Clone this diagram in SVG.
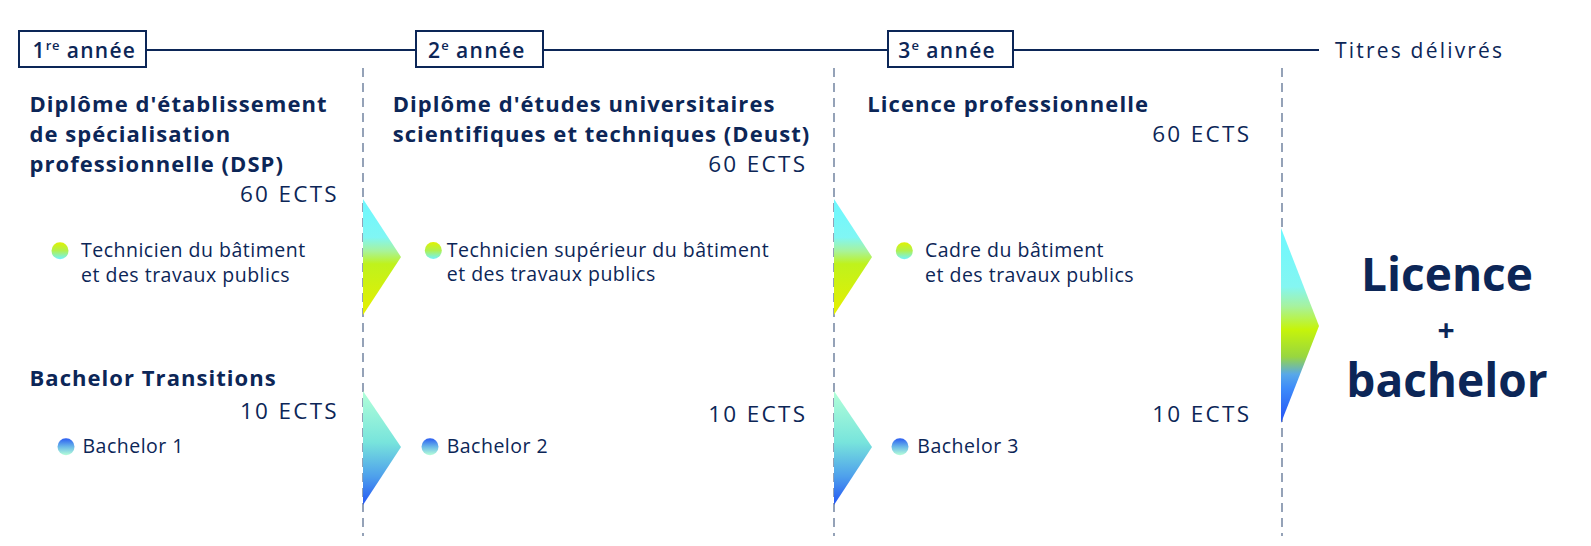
<svg xmlns="http://www.w3.org/2000/svg" width="1591" height="546" viewBox="0 0 1591 546">
<style>
text{font-family:"Open Sans","Liberation Sans",sans-serif;fill:#0c2657}
.h{font-size:21px;font-weight:600;letter-spacing:1.3px}
.ti{font-size:21px;font-weight:500;letter-spacing:2.2px}
.t{font-size:22px;font-weight:700;letter-spacing:1.05px}
.e{font-size:22.5px;font-weight:400;letter-spacing:2.3px;text-anchor:end}
.b{font-size:19.5px;font-weight:400;letter-spacing:0.5px}
.sup{font-size:13px;letter-spacing:0.5px}
.big{font-size:46px;font-weight:700;text-anchor:middle}
.box{fill:#fff;stroke:#0c2657;stroke-width:2}
.ln{stroke:#0c2657;stroke-width:2}
.dash{stroke:#4f6589;stroke-width:1.2;stroke-dasharray:9 6}
</style>
<defs>
<linearGradient id="gTop" x1="0" y1="0" x2="0" y2="1">
<stop offset="0" stop-color="#6cf8ff"/><stop offset="0.33" stop-color="#80f6f4"/><stop offset="0.45" stop-color="#a8f39a"/><stop offset="0.56" stop-color="#bff21c"/><stop offset="1" stop-color="#e6ef00"/>
</linearGradient>
<linearGradient id="gBot" x1="0" y1="0" x2="0" y2="1">
<stop offset="0" stop-color="#b2ffd8"/><stop offset="0.45" stop-color="#78e4dc"/><stop offset="0.75" stop-color="#4ea0ec"/><stop offset="1" stop-color="#2456f4"/>
</linearGradient>
<linearGradient id="gFin" x1="0" y1="0" x2="0" y2="1">
<stop offset="0" stop-color="#6cf8ff"/><stop offset="0.3" stop-color="#84f6f2"/><stop offset="0.4" stop-color="#a6f2a0"/><stop offset="0.52" stop-color="#c6f40a"/><stop offset="0.66" stop-color="#98d640"/><stop offset="0.75" stop-color="#58a8e8"/><stop offset="0.82" stop-color="#3e8cfa"/><stop offset="1" stop-color="#2450f4"/>
</linearGradient>
<linearGradient id="bTop" x1="0" y1="0" x2="0" y2="1">
<stop offset="0" stop-color="#e0f200"/><stop offset="0.5" stop-color="#b0f050"/><stop offset="1" stop-color="#70f4ff"/>
</linearGradient>
<linearGradient id="bBot" x1="0" y1="0" x2="0" y2="1">
<stop offset="0" stop-color="#2a5cf2"/><stop offset="0.5" stop-color="#6ab8e8"/><stop offset="1" stop-color="#b6ffd8"/>
</linearGradient>
</defs>

<g id="connectors">
<line class="ln" x1="146" y1="50" x2="416" y2="50"/>
<line class="ln" x1="543" y1="50" x2="888" y2="50"/>
<line class="ln" x1="1013" y1="50" x2="1319" y2="50"/>
<line class="dash" x1="363" y1="68" x2="363" y2="536"/>
<line class="dash" x1="834" y1="68" x2="834" y2="536"/>
<line class="dash" x1="1282" y1="68" x2="1282" y2="536"/>
<polygon points="363,199 401,257 363,315" fill="url(#gTop)"/>
<polygon points="363,391 401,447 363,505" fill="url(#gBot)"/>
<polygon points="834,199 872,257 834,315" fill="url(#gTop)"/>
<polygon points="834,391 872,447 834,505" fill="url(#gBot)"/>
<polygon points="1281,228 1319,326 1281,423" fill="url(#gFin)"/>
</g>

<g id="year1">
<rect class="box" x="19" y="31" width="127" height="36"/>
<text class="h" x="32.5" y="58.3">1<tspan class="sup" dy="-8">re</tspan><tspan dy="8"> année</tspan></text>
</g>
<g id="year2">
<rect class="box" x="416" y="31" width="127" height="36"/>
<text class="h" x="428" y="58.3">2<tspan class="sup" dy="-8">e</tspan><tspan dy="8"> année</tspan></text>
</g>
<g id="year3">
<rect class="box" x="888" y="31" width="125" height="36"/>
<text class="h" x="898.3" y="58.3">3<tspan class="sup" dy="-8">e</tspan><tspan dy="8"> année</tspan></text>
</g>
<g id="titres">
<text class="ti" x="1335" y="58.3">Titres délivrés</text>
</g>

<g id="dsp">
<text class="t" x="29.5" y="111.7">Diplôme d'établissement</text>
<text class="t" x="29.5" y="141.7">de spécialisation</text>
<text class="t" x="29.5" y="171.5">professionnelle (DSP)</text>
<text class="e" x="339" y="201.7">60 ECTS</text>
<circle cx="60" cy="250.7" r="8.5" fill="url(#bTop)"/>
<text class="b" x="81" y="256.7">Technicien du bâtiment</text>
<text class="b" x="81" y="281.5">et des travaux publics</text>
</g>

<g id="deust">
<text class="t" x="392.7" y="111.7">Diplôme d'études universitaires</text>
<text class="t" x="392.7" y="141.7">scientifiques et techniques (Deust)</text>
<text class="e" x="807.3" y="171.7">60 ECTS</text>
<circle cx="433.3" cy="250.5" r="8.5" fill="url(#bTop)"/>
<text class="b" x="446.7" y="256.7">Technicien supérieur du bâtiment</text>
<text class="b" x="446.7" y="281.2">et des travaux publics</text>
</g>

<g id="licpro">
<text class="t" x="867.3" y="112">Licence professionnelle</text>
<text class="e" x="1251.3" y="142.3">60 ECTS</text>
<circle cx="904.3" cy="250.7" r="8.5" fill="url(#bTop)"/>
<text class="b" x="925" y="256.7">Cadre du bâtiment</text>
<text class="b" x="925" y="281.7">et des travaux publics</text>
</g>

<g id="bachelor1">
<text class="t" x="29.5" y="386">Bachelor Transitions</text>
<text class="e" x="339" y="419">10 ECTS</text>
<circle cx="66" cy="446.7" r="8.5" fill="url(#bBot)"/>
<text class="b" x="82.5" y="453.3">Bachelor 1</text>
</g>
<g id="bachelor2">
<text class="e" x="807.3" y="422.3">10 ECTS</text>
<circle cx="430" cy="446.7" r="8.5" fill="url(#bBot)"/>
<text class="b" x="446.7" y="453.3">Bachelor 2</text>
</g>
<g id="bachelor3">
<text class="e" x="1251.3" y="422.3">10 ECTS</text>
<circle cx="900" cy="446.7" r="8.5" fill="url(#bBot)"/>
<text class="b" x="917.3" y="453.3">Bachelor 3</text>
</g>

<g id="result">
<text class="big" x="1447" y="291">Licence</text>
<text class="big" x="1446" y="341" style="font-size:30px">+</text>
<text class="big" x="1447" y="397">bachelor</text>
</g>
</svg>
